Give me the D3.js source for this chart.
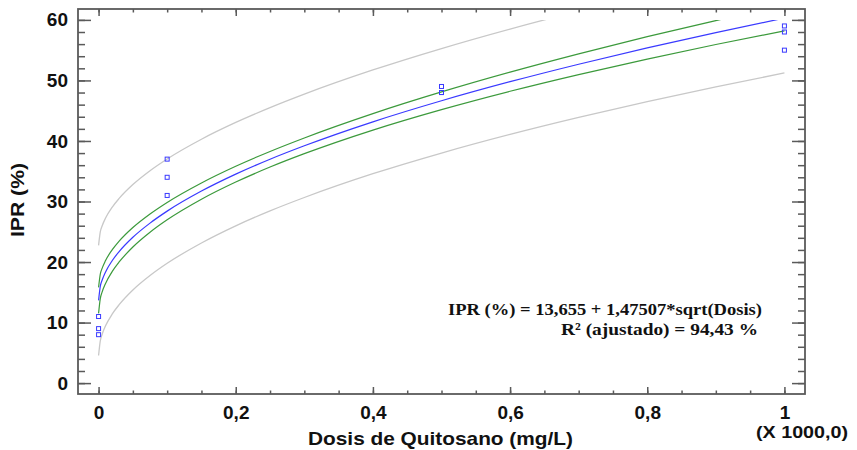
<!DOCTYPE html>
<html>
<head>
<meta charset="utf-8">
<script src="https://cdn.jsdelivr.net/npm/d3@7"></script>
<style>
  html, body { margin: 0; padding: 0; background: #fff; }
  svg { display: block; }
</style>
</head>
<body>
<svg id="chart" width="857" height="450"></svg>
<script>
// ---- Data (dose in thousands of mg/L, IPR in %) ----
const doseObs = [0, 0, 0, 0.1, 0.1, 0.1, 0.5, 0.5, 0.5, 1, 1, 1];
const iprObs  = [11, 9, 8, 37, 34, 31, 49, 48, 48, 59, 58, 55];

// curve sample positions (thousands of mg/L)
const curveX = [0, 0.0025, 0.005, 0.01, 0.02, 0.03, 0.05, 0.075, 0.1, 0.15, 0.2, 0.25, 0.3, 0.4, 0.5, 0.6, 0.7, 0.8, 0.9, 1.0];
// fitted model
const fitY    = [13.66, 15.99, 16.95, 18.32, 20.25, 21.73, 24.09, 26.43, 28.41, 31.72, 34.52, 36.98, 39.20, 43.16, 46.64, 49.79, 52.68, 55.38, 57.91, 60.30];
// confidence limits (green)
const confHi  = [15.81, 18.01, 18.91, 20.21, 22.04, 23.45, 25.70, 27.94, 29.85, 33.07, 35.83, 38.27, 40.50, 44.52, 48.10, 51.37, 54.39, 57.23, 59.89, 62.42];
const confLo  = [11.51, 13.97, 14.99, 16.43, 18.46, 20.01, 22.48, 24.92, 26.97, 30.37, 33.21, 35.69, 37.90, 41.80, 45.18, 48.21, 50.97, 53.53, 55.93, 58.18];
// prediction limits (gray)
const predHi  = [22.76, 24.99, 25.91, 27.22, 29.08, 30.51, 32.80, 35.09, 37.03, 40.29, 43.06, 45.51, 47.74, 51.73, 55.27, 58.49, 61.46, 64.25, 66.88, 69.37];
const predLo  = [4.56, 6.99, 7.99, 9.42, 11.42, 12.95, 15.38, 17.77, 19.79, 23.15, 25.98, 28.45, 30.66, 34.59, 38.01, 41.09, 43.90, 46.51, 48.94, 51.23];

const xMajor = [0, 0.2, 0.4, 0.6, 0.8, 1];
const xMinor = d3.range(0, 1.0001, 0.05);
const yMajor = [0, 10, 20, 30, 40, 50, 60];
const yMinor = d3.range(0, 60.001, 2);

const xTitle = "Dosis de Quitosano (mg/L)";
const yTitle = "IPR (%)";
const xMultiplier = "(X 1000,0)";
const eqLine1 = "IPR (%) = 13,655 + 1,47507*sqrt(Dosis)";
const eqLine2 = "R² (ajustado) = 94,43 %";

// ---- Layout ----
const L = 78, R = 805, T = 9, B = 394;
const svg = d3.select("#chart");
const x = d3.scaleLinear().domain([-0.03, 1.03]).range([L, R]);
const y = d3.scaleLinear().domain([-1.8, 61.8]).range([B, T]);

const fmtX = d => (d === 0 || d === 1) ? String(d) : d.toFixed(1).replace(".", ",");
const frameColor = "#5a5a5a";
const labelFont = "'Liberation Sans', Arial, sans-serif";

svg.append("defs").append("clipPath").attr("id", "clip")
  .append("rect").attr("x", L).attr("y", y(60)).attr("width", R - L).attr("height", B - y(60));

// curves
const lineGen = vals => d3.line()
  .x((d, i) => x(curveX[i]))
  .y(d => y(d))
  .curve(d3.curveMonotoneX)(vals);

const curves = svg.append("g").attr("clip-path", "url(#clip)").attr("fill", "none");
curves.append("path").attr("d", lineGen(predHi)).attr("stroke", "#c8c8c8").attr("stroke-width", 1.3);
curves.append("path").attr("d", lineGen(predLo)).attr("stroke", "#c8c8c8").attr("stroke-width", 1.3);
curves.append("path").attr("d", lineGen(confHi)).attr("stroke", "#3c9a3c").attr("stroke-width", 1.2);
curves.append("path").attr("d", lineGen(confLo)).attr("stroke", "#3c9a3c").attr("stroke-width", 1.2);
curves.append("path").attr("d", lineGen(fitY)).attr("stroke", "#3a3aff").attr("stroke-width", 1.2);

// points
svg.append("g").selectAll("rect").data(doseObs).join("rect")
  .attr("x", (d) => x(d) - 2)
  .attr("y", (d, i) => y(iprObs[i]) - 2)
  .attr("width", 4).attr("height", 4)
  .attr("fill", "none").attr("stroke", "#3a3aff").attr("stroke-width", 1);

// axes
function styleAxis(g) {
  g.select(".domain").remove();
  g.selectAll(".tick line").attr("stroke", frameColor).attr("stroke-width", 1.5);
  g.selectAll(".tick text").attr("fill", "#111").attr("font-family", labelFont)
    .attr("font-weight", "bold").attr("font-size", "19px");
}
// bottom
svg.append("g").attr("transform", `translate(0,${B})`)
  .call(d3.axisBottom(x).tickValues(xMinor).tickSize(-3.5).tickFormat("")).call(styleAxis);
svg.append("g").attr("transform", `translate(0,${B})`)
  .call(d3.axisBottom(x).tickValues(xMajor).tickSize(-7).tickPadding(12).tickFormat(fmtX)).call(styleAxis);
// top
svg.append("g").attr("transform", `translate(0,${T})`)
  .call(d3.axisTop(x).tickValues(xMinor).tickSize(-3.5).tickFormat("")).call(styleAxis);
svg.append("g").attr("transform", `translate(0,${T})`)
  .call(d3.axisTop(x).tickValues(xMajor).tickSize(-7).tickFormat("")).call(styleAxis);
// left
svg.append("g").attr("transform", `translate(${L},0)`)
  .call(d3.axisLeft(y).tickValues(yMinor).tickSize(-7).tickFormat("")).call(styleAxis);
svg.append("g").attr("transform", `translate(${L},0)`)
  .call(d3.axisLeft(y).tickValues(yMajor).tickSize(-13).tickPadding(10).tickFormat(d3.format("d"))).call(styleAxis);
// right
svg.append("g").attr("transform", `translate(${R},0)`)
  .call(d3.axisRight(y).tickValues(yMinor).tickSize(-7).tickFormat("")).call(styleAxis);
svg.append("g").attr("transform", `translate(${R},0)`)
  .call(d3.axisRight(y).tickValues(yMajor).tickSize(-13).tickFormat("")).call(styleAxis);

// frame
svg.append("rect").attr("x", L).attr("y", T).attr("width", R - L).attr("height", B - T)
  .attr("fill", "none").attr("stroke", frameColor).attr("stroke-width", 1.8);

// titles
svg.append("text").attr("x", 440.5).attr("y", 445).attr("text-anchor", "middle")
  .attr("font-family", labelFont).attr("font-weight", "bold").attr("font-size", "19px")
  .attr("fill", "#111").attr("textLength", 265).attr("lengthAdjust", "spacingAndGlyphs")
  .text(xTitle);
svg.append("text").attr("x", 756).attr("y", 438)
  .attr("font-family", labelFont).attr("font-weight", "bold").attr("font-size", "17px")
  .attr("fill", "#111").attr("textLength", 92).attr("lengthAdjust", "spacingAndGlyphs")
  .text(xMultiplier);
svg.append("text").attr("transform", "translate(24,200) rotate(-90)").attr("text-anchor", "middle")
  .attr("font-family", labelFont).attr("font-weight", "bold").attr("font-size", "19px")
  .attr("fill", "#111").attr("textLength", 74).attr("lengthAdjust", "spacingAndGlyphs")
  .text(yTitle);

// equation annotation
const serif = "'Liberation Serif', 'Times New Roman', serif";
svg.append("text").attr("x", 448).attr("y", 315)
  .attr("font-family", serif).attr("font-weight", "bold").attr("font-size", "17px")
  .attr("fill", "#111").attr("textLength", 314).attr("lengthAdjust", "spacingAndGlyphs")
  .text(eqLine1);
svg.append("text").attr("x", 561).attr("y", 335)
  .attr("font-family", serif).attr("font-weight", "bold").attr("font-size", "17px")
  .attr("fill", "#111").attr("textLength", 197).attr("lengthAdjust", "spacingAndGlyphs")
  .text(eqLine2);
</script>
</body>
</html>
